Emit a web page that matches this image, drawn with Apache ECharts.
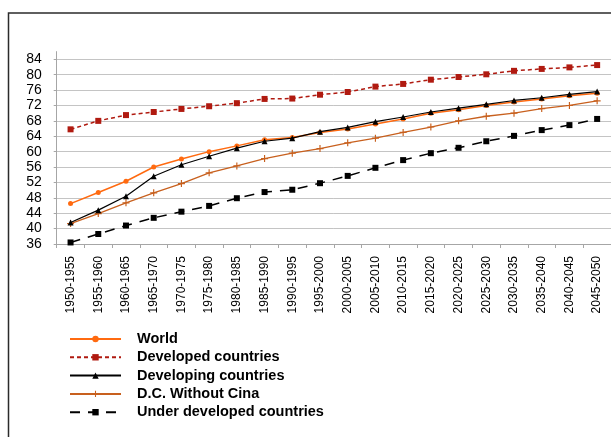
<!DOCTYPE html>
<html>
<head>
<meta charset="utf-8">
<style>
  html, body { margin: 0; padding: 0; background: #ffffff; }
  #chart { width: 611px; height: 437px; }
</style>
<script src="https://cdn.jsdelivr.net/npm/echarts@6/dist/echarts.min.js"></script>
</head>
<body>
<div id="chart"></div>
<script>
// Life expectancy at birth by five-year period
const periods = [
  '1950-1955', '1955-1960', '1960-1965', '1965-1970', '1970-1975',
  '1975-1980', '1980-1985', '1985-1990', '1990-1995', '1995-2000',
  '2000-2005', '2005-2010', '2010-2015', '2015-2020', '2020-2025',
  '2025-2030', '2030-2035', '2035-2040', '2040-2045', '2045-2050'
];
const world = [46.5, 49.4, 52.3, 56.0, 58.1, 60.0, 61.5, 63.1, 63.7, 65.0,
               65.9, 67.2, 68.5, 70.0, 70.9, 72.0, 72.9, 73.7, 74.5, 75.2];
const developed = [65.8, 68.0, 69.5, 70.3, 71.1, 71.8, 72.6, 73.7, 73.8, 74.8,
                   75.5, 76.9, 77.6, 78.7, 79.4, 80.1, 81.0, 81.5, 81.9, 82.5];
const developing = [41.6, 44.8, 48.4, 53.6, 56.6, 58.8, 60.9, 62.7, 63.5, 65.2,
                    66.3, 67.8, 69.0, 70.3, 71.3, 72.3, 73.3, 74.0, 74.9, 75.6];
const devNoChina = [41.3, 43.9, 46.7, 49.3, 51.7, 54.5, 56.3, 58.2, 59.6, 60.8,
                    62.3, 63.5, 65.0, 66.4, 68.0, 69.2, 70.0, 71.2, 72.0, 73.2];
const underDeveloped = [36.4, 38.6, 40.8, 42.8, 44.4, 45.9, 47.9, 49.5, 50.1, 51.8,
                        53.7, 55.8, 57.8, 59.6, 61.0, 62.7, 64.1, 65.6, 66.9, 68.5];
const yTicks = [36, 40, 44, 48, 52, 56, 60, 64, 68, 72, 76, 80, 84];

const FONT = '"Liberation Sans", Arial, sans-serif';
const plusMarker = 'path://M4,0h1.6v4h4v1.6h-4v4h-1.6v-4h-4v-1.6h4z';

// one grey split line per labelled tick, none at the axis top
const gridColors = yTicks.map(() => '#c4c4c4').concat(['rgba(0,0,0,0)']);

const chart = echarts.init(document.getElementById('chart'), null, { renderer: 'canvas' });
chart.setOption({
  backgroundColor: '#ffffff',
  animation: false,
  graphic: [{
    type: 'rect',
    shape: { x: 8.5, y: 13, width: 700, height: 500 },
    style: { fill: 'none', stroke: '#2b2b2b', lineWidth: 1.5 },
    z: -1
  }],
  grid: { left: 56.7, top: 51.6, width: 560, height: 192.4 },
  legend: {
    orient: 'vertical',
    left: 64,
    top: 326.5,
    itemWidth: 51,
    itemHeight: 8,
    itemGap: 3.3,
    textStyle: {
      fontFamily: FONT, fontSize: 14.5, fontWeight: 'bold', color: '#000',
      lineHeight: 14, padding: [0, 0, 0, 11]
    },
    data: ['World', 'Developed countries', 'Developing countries',
           'D.C. Without Cina', 'Under developed countries']
  },
  xAxis: {
    type: 'category',
    data: periods,
    boundaryGap: true,
    axisLine: { lineStyle: { color: '#a6a6a6', width: 1 } },
    axisTick: { show: true, length: 4, lineStyle: { color: '#a6a6a6' } },
    axisLabel: {
      rotate: 90, margin: 12, interval: 0,
      fontFamily: FONT, fontSize: 12, color: '#000'
    },
    splitLine: { show: false }
  },
  yAxis: {
    type: 'value',
    min: 36, max: 86, interval: 4,
    axisLine: { show: true, lineStyle: { color: '#a6a6a6', width: 1 } },
    axisTick: { show: true, length: 3, lineStyle: { color: '#a6a6a6' } },
    axisLabel: {
      margin: 15, showMaxLabel: false,
      fontFamily: FONT, fontSize: 14, color: '#000'
    },
    splitLine: { show: true, lineStyle: { color: gridColors, width: 1 } }
  },
  series: [
    {
      name: 'World', type: 'line', data: world,
      symbol: 'circle', symbolSize: 5,
      lineStyle: { color: '#ff6a10', width: 1.5 },
      itemStyle: { color: '#ff6a10' }, z: 4
    },
    {
      name: 'Developed countries', type: 'line', data: developed,
      symbol: 'rect', symbolSize: 6,
      lineStyle: { color: '#b01a10', width: 1.5, type: [4, 3] },
      itemStyle: { color: '#b01a10' }, z: 3
    },
    {
      name: 'Developing countries', type: 'line', data: developing,
      symbol: 'triangle', symbolSize: 6,
      lineStyle: { color: '#000000', width: 1.2 },
      itemStyle: { color: '#000000' }, z: 5
    },
    {
      name: 'D.C. Without Cina', type: 'line', data: devNoChina,
      symbol: plusMarker, symbolSize: 7,
      lineStyle: { color: '#c8601e', width: 1.3 },
      itemStyle: { color: '#c8601e' }, z: 2
    },
    {
      name: 'Under developed countries', type: 'line', data: underDeveloped,
      symbol: 'rect', symbolSize: 6,
      lineStyle: { color: '#000000', width: 1.5, type: [10, 8] },
      itemStyle: { color: '#000000' }, z: 1
    }
  ]
});
</script>
</body>
</html>
